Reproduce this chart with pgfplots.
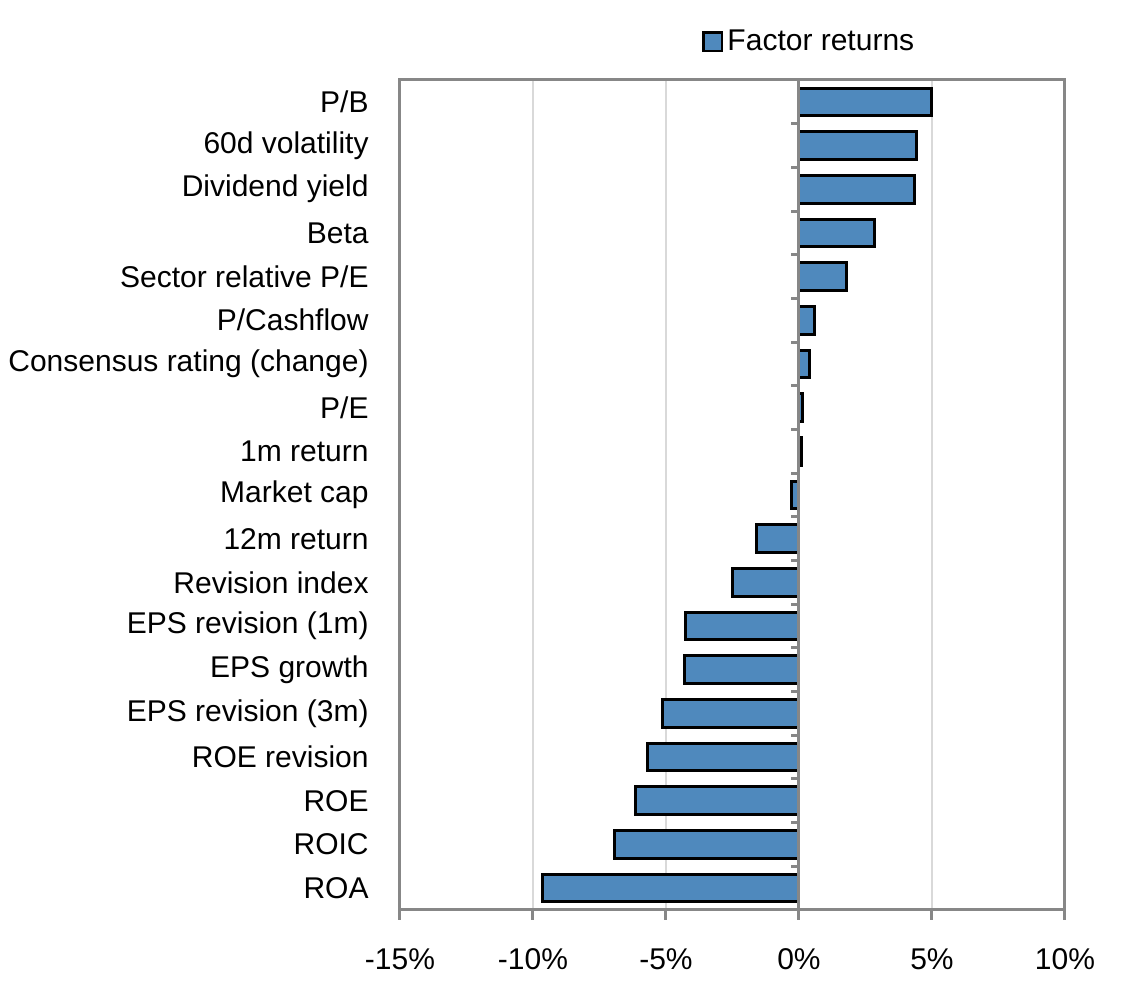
\documentclass[border=0pt]{standalone}
\usepackage{pgfplots}
\usepackage{pgfplotstable}
\pgfplotsset{compat=1.18}
\usepackage{fontspec}
\setmainfont{Liberation Sans}
\definecolor{barblue}{HTML}{4F89BD}
\definecolor{axgray}{HTML}{878787}
\definecolor{gridgray}{HTML}{D9D9D9}
\pgfplotstableread{
y v
0 -9.65
1 -6.95
2 -6.15
3 -5.7
4 -5.15
5 -4.3
6 -4.25
7 -2.5
8 -1.6
9 -0.3
10 0.1
11 0.15
12 0.4
13 0.6
14 1.78
15 2.83
16 4.34
17 4.4
18 5.0
}\datatable
\begin{document}
\begin{tikzpicture}
\begin{axis}[
 at={(0,0)}, anchor=south west,
 scale only axis, width=332.5pt, height=415pt,
 xmin=-15, xmax=10, ymin=-0.5, ymax=18.5,
 xbar, bar width=13.8pt, bar shift=0pt,
 xtick={-15,-10,-5,0,5,10},
 xticklabels={-15\%,-10\%,-5\%,0\%,5\%,10\%},
 ytick={0,...,18},
 yticklabels={ROA,ROIC,ROE,ROE revision,EPS revision (3m),EPS growth,EPS revision (1m),Revision index,12m return,Market cap,1m return,P/E,Consensus rating (change),P/Cashflow,Sector relative P/E,Beta,Dividend yield,60d volatility,P/B},
 tick label style={font=\fontsize{15}{18}\selectfont},
 yticklabel style={anchor=east, inner sep=0pt, xshift=-10.5pt},
 xticklabel style={anchor=north, inner sep=0pt, yshift=-14pt},
 ytick style={draw=none},
 xtick style={axgray, line width=1.5pt},
 major tick length=5pt,
 xtick align=outside,
 xtick pos=left,
 xmajorgrids,
 grid style={gridgray, line width=1pt},
 axis line style={axgray, line width=1.5pt},
 legend style={at={(0.454,1.046)}, anchor=west, draw=none, fill=none, inner sep=0pt, font=\fontsize{15}{18}\selectfont},
]
\addplot[fill=barblue, draw=black, line width=1.5pt,
  legend image code/.code={\draw[fill=barblue,draw=black,line width=1.4pt] (0pt,-4.6pt) rectangle (9.2pt,4.6pt);}]
  table[x=v,y=y]{\datatable};
\addlegendentry{Factor returns}
\draw[axgray, line width=1.5pt] (axis cs:0,-0.5) -- (axis cs:0,18.5);
\pgfplotsinvokeforeach{0,...,17}{\draw[axgray, line width=1.5pt] (axis cs:0,#1.5) -- ++(-4pt,0pt);}
\end{axis}
\pgfresetboundingbox
\path (-200pt,-37.5pt) rectangle (363pt,455pt);
\end{tikzpicture}
\end{document}
